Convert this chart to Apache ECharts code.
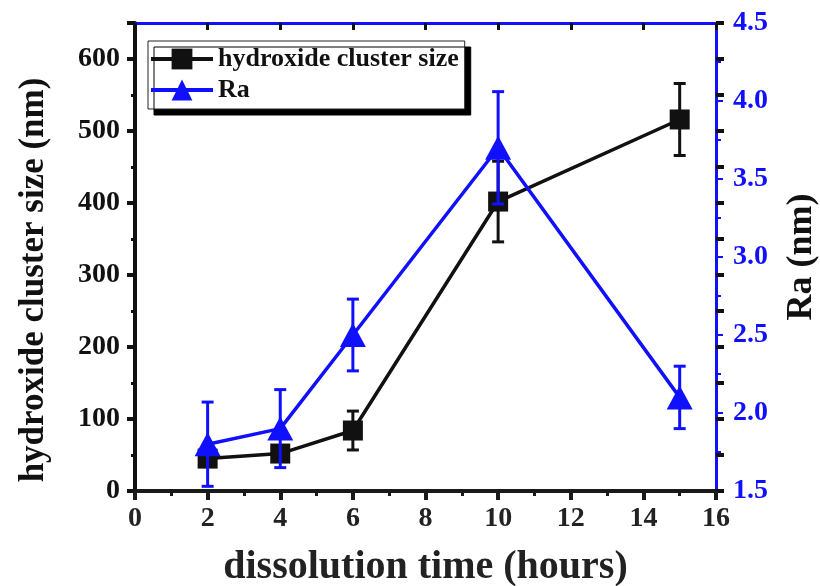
<!DOCTYPE html>
<html><head><meta charset="utf-8">
<script src="https://cdn.jsdelivr.net/npm/echarts@6/dist/echarts.min.js"></script>
<style>html,body{margin:0;padding:0;background:#fff}#c{width:820px;height:586px}</style>
</head><body><div id="c"></div>
<script>
const time = [2, 4, 6, 10, 15];
const clusterSize = [45, 52, 84, 402, 516];
const clusterErr = [8, 10, 27, 56, 50];
const ra = [1.8, 1.9, 2.5, 3.7, 2.1];
const raErr = [0.27, 0.25, 0.23, 0.36, 0.2];
const xTicks = [0, 2, 4, 6, 8, 10, 12, 14, 16];

const FONT = 'Liberation Serif';
const BLUE = '#1010ff';

function errItem(color) {
  return function (params, api) {
    const x = api.value(0), lo = api.value(1), hi = api.value(2);
    const pTop = api.coord([x, hi]);
    const pBot = api.coord([x, lo]);
    const w = 6;
    const st = { stroke: color, lineWidth: 3 };
    return { type: 'group', children: [
      { type: 'line', shape: { x1: pTop[0], y1: pTop[1], x2: pBot[0], y2: pBot[1] }, style: st },
      { type: 'line', shape: { x1: pTop[0] - w, y1: pTop[1], x2: pTop[0] + w, y2: pTop[1] }, style: st },
      { type: 'line', shape: { x1: pBot[0] - w, y1: pBot[1], x2: pBot[0] + w, y2: pBot[1] }, style: st }
    ]};
  };
}

const chart = echarts.init(document.getElementById('c'), null, { renderer: 'canvas' });
const lbl = (size, color) => ({ fontFamily: FONT, fontWeight: 'bold', fontSize: size, color: color });
chart.setOption({
  backgroundColor: '#fff',
  animation: false,
  grid: { left: 135, right: 104, top: 23, bottom: 95, outerBoundsMode: 'none', containLabel: false },
  legend: {
    left: 148, top: 41, orient: 'vertical',
    data: ['hydroxide cluster size', 'Ra'],
    itemWidth: 62, itemHeight: 26, itemGap: 5,
    padding: [5, 6, 6, 1],
    borderColor: '#222', borderWidth: 1,
    backgroundColor: '#fff',
    shadowColor: '#000', shadowBlur: 0, shadowOffsetX: 6, shadowOffsetY: 6,
    lineStyle: { width: 4 },
    textStyle: { fontFamily: FONT, fontWeight: 'bold', fontSize: 26, color: '#111' }
  },
  xAxis: [{
    type: 'value', min: 0, max: 16, interval: 2,
    name: 'dissolution time (hours)', nameLocation: 'middle', nameGap: 57,
    nameTextStyle: lbl(40, '#222'),
    axisLine: { onZero: false, lineStyle: { color: '#1a1a1a', width: 4 } },
    axisTick: { length: 9, lineStyle: { width: 4, color: '#1a1a1a' } },
    minorTick: { show: true, splitNumber: 2, length: 5, lineStyle: { width: 3, color: '#1a1a1a' } },
    axisLabel: Object.assign({ margin: 14, formatter: v => xTicks.includes(v) ? String(v) : '' }, lbl(28, '#222')),
    splitLine: { show: false }
  }, {
    type: 'value', min: 0, max: 16, interval: 2, position: 'top',
    axisLine: { onZero: false, lineStyle: { color: BLUE, width: 3 } },
    axisTick: { inside: true, length: 7, lineStyle: { width: 3, color: '#111' } },
    axisLabel: { show: false }, splitLine: { show: false }
  }],
  yAxis: [{
    type: 'value', min: 0, max: 650, interval: 100, position: 'left',
    name: 'hydroxide cluster size (nm)', nameLocation: 'middle', nameGap: 84, nameRotate: 90,
    nameTextStyle: Object.assign(lbl(35, '#111'), { padding: [0, 46, 0, 0] }),
    axisLine: { show: true, onZero: false, lineStyle: { color: '#111', width: 4 } },
    axisTick: { length: 8, lineStyle: { width: 4, color: '#111' } },
    minorTick: { show: true, splitNumber: 2, length: 4, lineStyle: { width: 3, color: '#111' } },
    axisLabel: Object.assign({ margin: 15, showMaxLabel: false, formatter: v => v <= 600 ? String(v) : '' }, lbl(28, '#111')),
    splitLine: { show: false }
  }, {
    type: 'value', min: 1.5, max: 4.5, interval: 0.5, position: 'right',
    name: 'Ra (nm)', nameLocation: 'middle', nameGap: 68, nameRotate: 90,
    nameTextStyle: lbl(36, '#111'),
    axisLine: { show: true, onZero: false, lineStyle: { color: BLUE, width: 3 } },
    axisTick: { length: 7, lineStyle: { width: 2, color: BLUE } },
    minorTick: { show: true, splitNumber: 2, length: 5, lineStyle: { width: 2, color: BLUE } },
    axisLabel: Object.assign({ margin: 17, formatter: v => v.toFixed(1) }, lbl(28, BLUE)),
    splitLine: { show: false }
  }, {
    type: 'value', min: 0, max: 650, interval: 100, position: 'right',
    axisLine: { show: false, onZero: false },
    axisTick: { length: 8, lineStyle: { width: 4, color: '#111' } },
    minorTick: { show: true, splitNumber: 2, length: 8, lineStyle: { width: 4, color: '#111' } },
    axisLabel: { show: false }, splitLine: { show: false }
  }],
  series: [{
    name: 'hydroxide cluster size', type: 'line', xAxisIndex: 0, yAxisIndex: 0,
    data: time.map((t, i) => [t, clusterSize[i]]),
    symbol: 'rect', symbolSize: 20,
    lineStyle: { color: '#111', width: 3.5 },
    itemStyle: { color: '#111' }, z: 3
  }, {
    name: 'clusterErr', type: 'custom', xAxisIndex: 0, yAxisIndex: 0,
    data: time.map((t, i) => [t, clusterSize[i] - clusterErr[i], clusterSize[i] + clusterErr[i]]),
    renderItem: errItem('#111'), z: 3
  }, {
    name: 'Ra', type: 'line', xAxisIndex: 0, yAxisIndex: 1,
    data: time.map((t, i) => [t, ra[i]]),
    symbol: 'triangle', symbolSize: [26, 24],
    lineStyle: { color: BLUE, width: 3.5 },
    itemStyle: { color: BLUE }, z: 5
  }, {
    name: 'raErr', type: 'custom', xAxisIndex: 0, yAxisIndex: 1,
    data: time.map((t, i) => [t, ra[i] - raErr[i], ra[i] + raErr[i]]),
    renderItem: errItem(BLUE), z: 5
  }]
});
</script></body></html>
